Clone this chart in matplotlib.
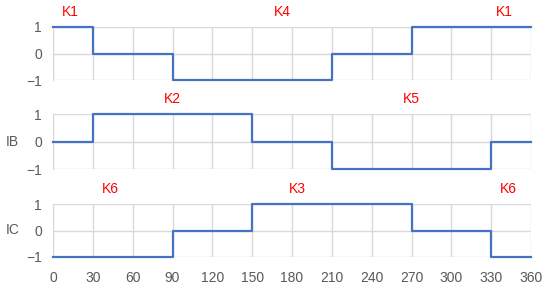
import matplotlib
matplotlib.use("Agg")
import matplotlib.pyplot as plt

angles = [0, 30, 90, 150, 210, 270, 330, 360]
ia = [1, 0, -1, -1, 0, 1, 1, 1]
ib = [0, 1, 1, 0, -1, -1, 0, 0]
ic = [-1, -1, 0, 1, 1, 0, -1, -1]
xticks = list(range(0, 361, 30))
yticks = [-1, 0, 1]
ylabels = ["", "IB", "IC"]
labels = [
    [("K1", 13), ("K4", 173), ("K1", 340)],
    [("K2", 90), ("K5", 270)],
    [("K6", 43), ("K3", 184), ("K6", 343)],
]
series = [ia, ib, ic]

plt.rcParams['font.family'] = ['Liberation Sans', 'DejaVu Sans']
fig = plt.figure(figsize=(5.5, 2.91), dpi=100)
left, width = 53/550, 478/550
tops = [27, 114, 204]
bots = [80, 169, 257]
gray = "#595959"
for i, (s, t, b) in enumerate(zip(series, tops, bots)):
    ax = fig.add_axes([left, 1 - b/291, width, (b - t)/291])
    ax.step(angles, s, where="post", color="#4472C4", lw=1.6, zorder=3, clip_on=False)
    ax.set_xlim(0, 360)
    ax.set_ylim(-1, 1)
    ax.set_xticks(xticks)
    ax.set_yticks(yticks)
    ax.set_yticklabels(["\u22121", "0", "1"])
    ax.grid(True, color="#D9D9D9", lw=1)
    for sp in ax.spines.values():
        sp.set_visible(False)
    ax.spines['left'].set_visible(True)
    ax.spines['left'].set_color("#D9D9D9")
    ax.tick_params(length=0, colors=gray, labelsize=10, pad=8)
    if i < 2:
        ax.set_xticklabels([])
    else:
        ax.tick_params(axis='x', pad=10)
    for txt, x in labels[i]:
        ax.text(x, 1.55, txt, color="#FF0000", fontsize=10, ha="center", va="center")
    if ylabels[i]:
        ax.text(-0.085, 0.5, ylabels[i], transform=ax.transAxes, color=gray,
                fontsize=10, ha="center", va="center")
fig.savefig("out.png", dpi=100)
